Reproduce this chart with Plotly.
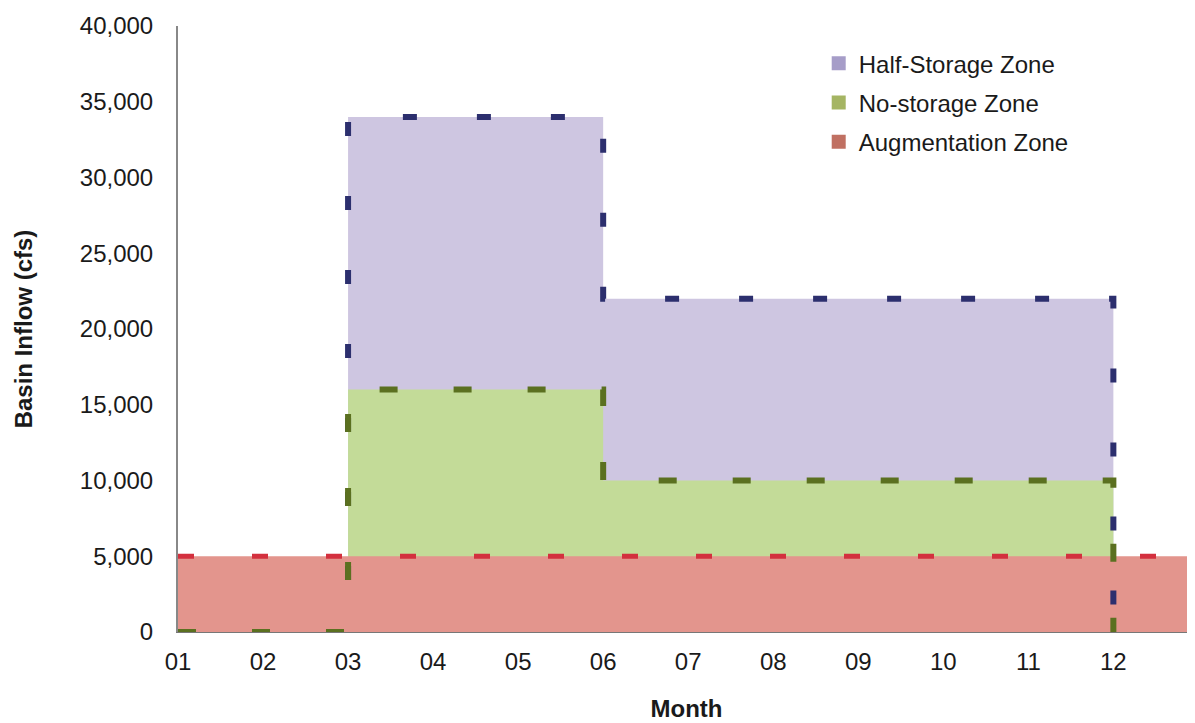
import plotly.graph_objects as go

# Data
months = [1, 3, 6, 12]
half_storage = [0, 34000, 22000, 0]
no_storage = [0, 16000, 10000, 0]
aug_months = [1, 13]
augmentation = [5000, 5000]
tick_vals = [1, 2, 3, 4, 5, 6, 7, 8, 9, 10, 11, 12]
tick_text = ["01", "02", "03", "04", "05", "06", "07", "08", "09", "10", "11", "12"]
names = ["Half-Storage Zone", "No-storage Zone", "Augmentation Zone"]

FONT = "Liberation Sans, Arial, sans-serif"
fill_cols = ["#CEC6E1", "#C3DB98", "#E3958D"]
line_cols = ["#2C2F6E", "#5B7020", "#D3303E"]
legend_cols = ["#A69DC8", "#A5B563", "#C07062"]

fig = go.Figure()
# fills
fig.add_trace(go.Scatter(x=months, y=half_storage, mode="lines", line=dict(width=0, shape="hv"),
                         fill="tozeroy", fillcolor=fill_cols[0], showlegend=False, hoverinfo="skip"))
fig.add_trace(go.Scatter(x=months, y=no_storage, mode="lines", line=dict(width=0, shape="hv"),
                         fill="tozeroy", fillcolor=fill_cols[1], showlegend=False, hoverinfo="skip"))
fig.add_trace(go.Scatter(x=aug_months, y=augmentation, mode="lines", line=dict(width=0, shape="hv"),
                         fill="tozeroy", fillcolor=fill_cols[2], showlegend=False, hoverinfo="skip"))
# dashed boundaries
fig.add_trace(go.Scatter(x=months, y=half_storage, mode="lines",
                         line=dict(color=line_cols[0], width=6, shape="hv", dash="14px,60px"),
                         showlegend=False))
fig.add_trace(go.Scatter(x=months, y=no_storage, mode="lines",
                         line=dict(color=line_cols[1], width=6, shape="hv", dash="18px,56px"),
                         showlegend=False))
fig.add_trace(go.Scatter(x=aug_months, y=augmentation, mode="lines",
                         line=dict(color=line_cols[2], width=5, shape="hv", dash="16px,58px"),
                         showlegend=False))
# legend entries
for i, (n, c) in enumerate(zip(names, legend_cols)):
    fig.add_trace(go.Scatter(x=[None], y=[None], mode="markers", name=n, legendgroup=f"g{i}",
                             marker=dict(symbol="square", size=14, color=c)))

fig.update_layout(
    width=1195, height=723,
    margin=dict(l=170, r=8, t=18, b=99, autoexpand=False),
    paper_bgcolor="white", plot_bgcolor="white",
    font=dict(family=FONT, size=24, color="#1a1a1a"),
    legend=dict(x=0.63, y=0.975, xanchor="left", yanchor="top",
                bgcolor="rgba(0,0,0,0)", font=dict(size=24), itemwidth=30,
                tracegroupgap=5),
    xaxis=dict(range=[1, 12.96], tickvals=tick_vals, ticktext=tick_text,
               showgrid=False, zeroline=False, showline=True, linecolor="#777", linewidth=1,
               ticks="", ticklabelstandoff=8, automargin=False,
               title=dict(text="<b>Month</b>", font=dict(size=24), standoff=26)),
    yaxis=dict(range=[0, 40000], tickvals=list(range(0, 40001, 5000)),
               tickformat=",", showgrid=False, zeroline=False, showline=True,
               linecolor="#888", linewidth=2, ticks="", ticklabelstandoff=18, automargin=False,
               title=dict(text="<b>Basin Inflow (cfs)</b>", font=dict(size=24), standoff=40)),
)

fig.write_html("out.html")
